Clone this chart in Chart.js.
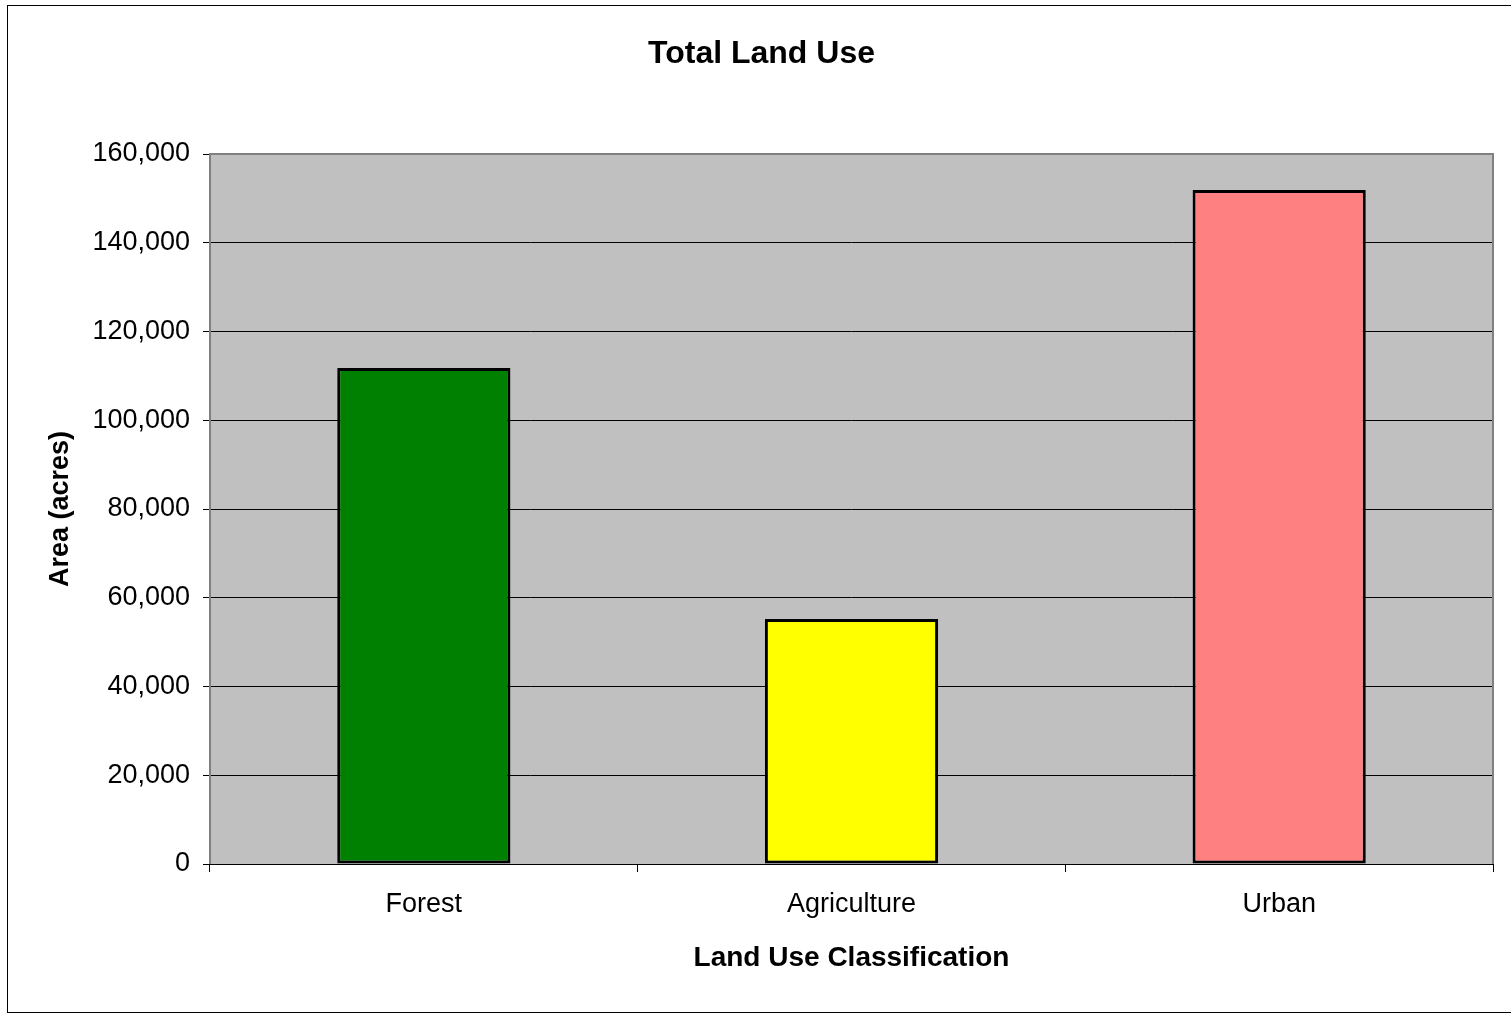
<!DOCTYPE html>
<html>
<head>
<meta charset="utf-8">
<title>Total Land Use</title>
<script src="https://cdn.jsdelivr.net/npm/chart.js@4/dist/chart.umd.min.js"></script>
<style>
  html, body { margin: 0; padding: 0; background: #ffffff; }
  canvas { display: block; }
</style>
</head>
<body>
<canvas id="landUseChart" width="1511" height="1013"></canvas>
<script>
const categories = ["Forest", "Agriculture", "Urban"];
const areaAcres = [111800, 55200, 151900];
const barColors = ["#008000", "#ffff00", "#ff8080"];
const yTicks = [0, 20000, 40000, 60000, 80000, 100000, 120000, 140000, 160000];

const FONT = "'Liberation Sans', Arial, sans-serif";

// grey plot background, frame, chart title and the outer border
const plotFrame = {
  id: "plotFrame",
  beforeDraw(chart) {
    const { ctx, chartArea: a } = chart;
    ctx.save();
    ctx.fillStyle = "#ffffff";
    ctx.fillRect(0, 0, chart.width, chart.height);
    ctx.fillStyle = "#c0c0c0";
    ctx.fillRect(a.left, a.top, a.right - a.left, a.bottom - a.top);
    ctx.restore();
  },
  afterDraw(chart) {
    const { ctx, chartArea: a } = chart;
    ctx.save();
    ctx.strokeStyle = "#808080";
    ctx.lineWidth = 2;
    ctx.beginPath();
    ctx.moveTo(a.left, a.bottom);
    ctx.lineTo(a.left, a.top);
    ctx.lineTo(a.right, a.top);
    ctx.lineTo(a.right, a.bottom);
    ctx.stroke();

    ctx.strokeStyle = "#000000";
    ctx.lineWidth = 1;
    ctx.beginPath();
    ctx.moveTo(a.left - 7, a.bottom + 0.5);
    ctx.lineTo(a.right, a.bottom + 0.5);
    ctx.stroke();

    ctx.strokeRect(7.5, 5.5, 1520, 1007);

    ctx.fillStyle = "#000000";
    ctx.font = "bold 32px " + FONT;
    ctx.textAlign = "center";
    ctx.textBaseline = "alphabetic";
    ctx.fillText("Total Land Use", 761.5, 63);
    ctx.restore();
  }
};

new Chart(document.getElementById("landUseChart"), {
  type: "bar",
  data: {
    labels: categories,
    datasets: [{
      label: "Area (acres)",
      data: areaAcres,
      backgroundColor: barColors,
      borderColor: "#000000",
      borderWidth: 3,
      borderSkipped: false,
      categoryPercentage: 1.0,
      barPercentage: 0.405
    }]
  },
  options: {
    responsive: false,
    animation: false,
    layout: { padding: { top: 154, right: 18, bottom: 0, left: 0 } },
    plugins: {
      legend: { display: false },
      title: { display: false },
      tooltip: { enabled: false }
    },
    scales: {
      x: {
        afterFit(scale) { scale.height = 149; },
        grid: {
          offset: true,
          drawOnChartArea: false,
          drawTicks: true,
          tickLength: 8,
          color: "#000000"
        },
        border: { display: false },
        ticks: {
          color: "#000000",
          padding: 16,
          font: { family: FONT, size: 27 }
        },
        title: {
          display: true,
          text: "Land Use Classification",
          color: "#000000",
          padding: { top: 0, bottom: 38 },
          font: { family: FONT, size: 28, weight: "bold" }
        }
      },
      y: {
        min: 0,
        max: 160000,
        afterFit(scale) { scale.width = 210; },
        afterBuildTicks(scale) {
          scale.ticks = yTicks.map((v) => ({ value: v }));
        },
        grid: {
          color: "#000000",
          lineWidth: 1,
          drawTicks: true,
          tickLength: 7
        },
        border: { display: false },
        ticks: {
          color: "#000000",
          padding: 13,
          font: { family: FONT, size: 27 },
          callback: (value) => value.toLocaleString("en-US")
        },
        title: {
          display: true,
          text: "Area (acres)",
          color: "#000000",
          padding: { top: 44, bottom: 0 },
          font: { family: FONT, size: 27, weight: "bold" }
        }
      }
    }
  },
  plugins: [plotFrame]
});
</script>
</body>
</html>
